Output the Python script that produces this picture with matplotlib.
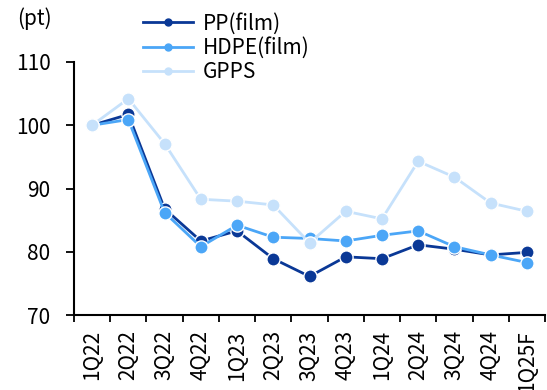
import matplotlib
matplotlib.use("Agg")
import matplotlib.pyplot as plt

plt.rcParams['font.family'] = ['Noto Sans CJK KR', 'DejaVu Sans']

quarters = ["1Q22", "2Q22", "3Q22", "4Q22", "1Q23", "2Q23", "3Q23",
            "4Q23", "1Q24", "2Q24", "3Q24", "4Q24", "1Q25F"]
pp_film = [100.0, 101.7, 86.8, 81.7, 83.3, 78.9, 76.1, 79.2, 78.9, 81.1, 80.4, 79.5, 79.9]
hdpe_film = [100.0, 100.9, 86.2, 80.8, 84.2, 82.3, 82.1, 81.7, 82.6, 83.3, 80.8, 79.5, 78.3]
gpps = [100.0, 104.2, 97.1, 88.3, 88.0, 87.4, 81.4, 86.4, 85.2, 94.3, 91.8, 87.7, 86.4]

series = [
    ("PP(film)", pp_film, "#0a3896"),
    ("HDPE(film)", hdpe_film, "#4ba6f7"),
    ("GPPS", gpps, "#c6e1fb"),
]

FS = 15
W, H = 547, 390
fig = plt.figure(figsize=(W / 100, H / 100), dpi=100)
ax = fig.add_axes([74 / W, 1 - 315 / H, (545 - 74) / W, (315 - 62) / H])

x = list(range(len(quarters)))
for z, (name, vals, col) in enumerate(series):
    ax.plot(x, vals, color=col, lw=2.0, marker="o", markersize=9.5,
            markeredgecolor="white", markeredgewidth=1.0, zorder=3 + z,
            label=name)

ax.set_xlim(-0.5, len(quarters) - 0.5)
ax.set_ylim(70, 110)
ax.set_yticks([70, 80, 90, 100, 110])
ax.set_xticks([i - 0.5 for i in range(len(quarters) + 1)], minor=False)
ax.set_xticklabels([])
ax.set_xticks(x, minor=True)
ax.set_xticklabels(quarters, minor=True, rotation=90)
ax.tick_params(axis="x", which="major", length=5, width=1.3, direction="out")
ax.tick_params(axis="x", which="minor", length=0, pad=11, labelsize=FS)
ax.tick_params(axis="y", length=6, width=1.3, direction="out", pad=11, labelsize=FS)

for s in ("top", "right"):
    ax.spines[s].set_visible(False)
for s in ("left", "bottom"):
    ax.spines[s].set_linewidth(1.5)

fig.text(34 / W, 1 - 19 / H, "(pt)", ha="center", va="center", fontsize=FS)

leg_handles = []
for name, vals, col in series:
    h, = ax.plot([], [], color=col, lw=2.0, marker="o", markersize=5,
                 markeredgecolor=col)
    leg_handles.append(h)
ax.legend(leg_handles, [s[0] for s in series], loc="upper left",
          bbox_to_anchor=(135 / W, 1 - 4 / H), bbox_transform=fig.transFigure,
          frameon=False, fontsize=FS, handlelength=2.4, handletextpad=0.45,
          labelspacing=0.12, borderaxespad=0)

fig.savefig("out.png", dpi=100)
